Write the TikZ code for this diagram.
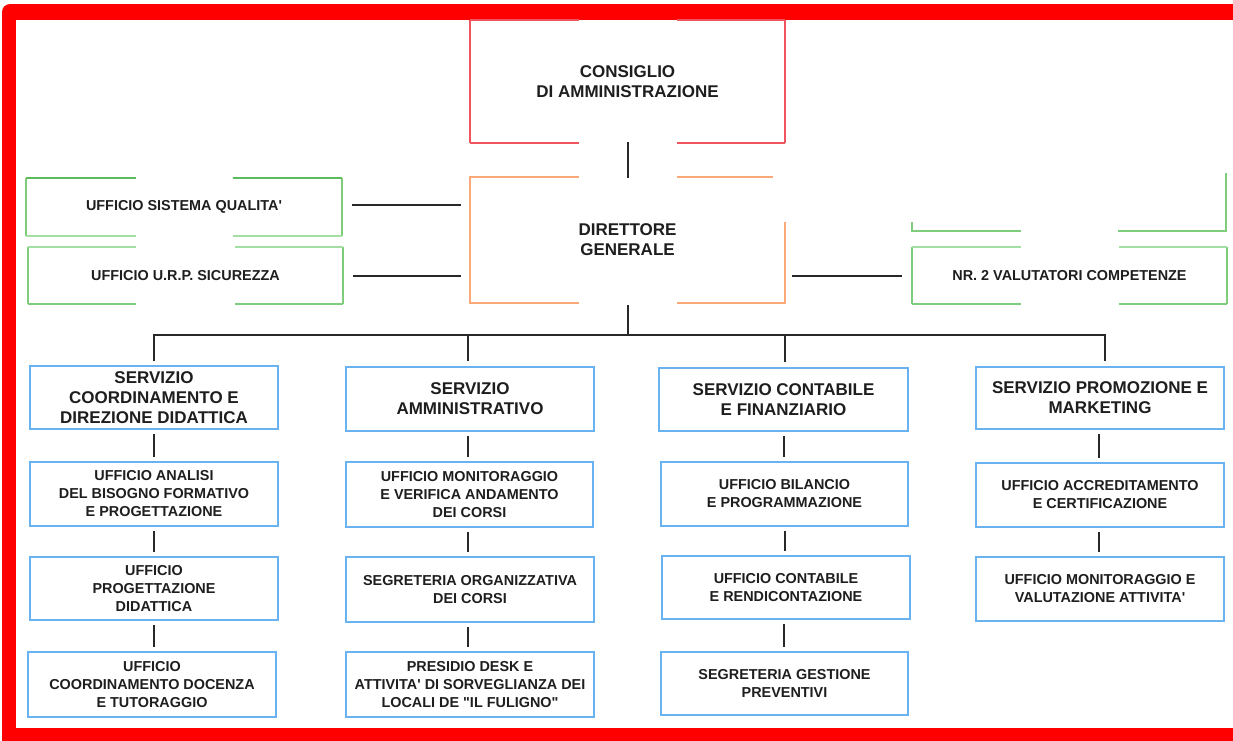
\documentclass[tikz,border=0pt]{standalone}
\usepackage{fontspec}
\setmainfont{Liberation Sans}[Ligatures=TeXOff]
\definecolor{framered}{RGB}{255,0,0}
\definecolor{boxred}{RGB}{240,85,95}
\definecolor{boxorange}{RGB}{250,170,120}
\definecolor{gdark}{RGB}{90,188,90}
\definecolor{gmid}{RGB}{125,205,125}
\definecolor{glight}{RGB}{165,222,165}
\definecolor{boxblue}{RGB}{105,180,240}
\definecolor{textdark}{RGB}{30,30,30}
\definecolor{connc}{RGB}{40,40,40}
\newcommand\brkbox[5]{%
 \draw[line width=1.5pt,#4] (#1.north west) -- (#1.south west);
 \draw[line width=1.5pt,#4] (#1.north east) -- (#1.south east);
 \draw[line width=1.5pt,#2] (#1.north west) -- ([xshift=-#5]#1.north);
 \draw[line width=1.5pt,#2] ([xshift=#5]#1.north) -- (#1.north east);
 \draw[line width=1.5pt,#3] (#1.south west) -- ([xshift=-#5]#1.south);
 \draw[line width=1.5pt,#3] ([xshift=#5]#1.south) -- (#1.south east);}
\begin{document}
\begin{tikzpicture}[x=1pt,y=-1pt,
 txt/.style={text=textdark, font={\fontsize{14.4}{18}\selectfont\bfseries}, align=center, inner sep=0pt},
 bigtxt/.style={txt, font={\fontsize{17}{20}\selectfont\bfseries}},
 bluebox/.style={txt, draw=boxblue, line width=1.5pt, minimum width=248pt, minimum height=63pt},
 bigblue/.style={bluebox, font={\fontsize{17}{20}\selectfont\bfseries}},
 conn/.style={draw=connc, line width=2pt, shorten <=4.5pt, shorten >=4.5pt},
 hconn/.style={draw=connc, line width=2pt}]
\useasboundingbox (0,0) rectangle (1233,740);
\clip (0,0) rectangle (1233,740);
% frame
\fill[framered, rounded corners=8pt] (2,4) rectangle (1270,780);
\fill[white] (16,20) rectangle (1233,728);

% top boxes
\node[bigtxt, minimum width=315pt, minimum height=123pt] (cda) at (627.5,81.5) {CONSIGLIO\\DI AMMINISTRAZIONE};
\node[bigtxt, minimum width=315pt, minimum height=126pt] (dg) at (627.5,240) {DIRETTORE\\GENERALE};
\brkbox{cda}{boxred}{boxred}{boxred}{49pt}
% direttore (partial right edge)
\draw[line width=1.5pt,boxorange] ([xshift=-49pt]dg.north) -- (dg.north west) -- (dg.south west) -- ([xshift=-49pt]dg.south);
\draw[line width=1.5pt,boxorange] ([xshift=49pt]dg.north) -- ([xshift=-12pt]dg.north east);
\draw[line width=1.5pt,boxorange] ([yshift=-45pt]dg.north east) -- (dg.south east) -- ([xshift=49pt]dg.south);

% staff boxes
\node[txt, minimum width=316pt, minimum height=58pt] (qual) at (184,207) {UFFICIO SISTEMA QUALITA'};
\node[txt, minimum width=315pt, minimum height=57pt] (urp) at (185.5,275.5) {UFFICIO U.R.P. SICUREZZA};
\node[txt, minimum width=315pt, minimum height=57pt] (nr2) at (1069.5,275.5) {NR. 2 VALUTATORI COMPETENZE};
\brkbox{qual}{gdark}{glight}{gmid}{48.5pt}
\brkbox{urp}{glight}{gmid}{gmid}{49.5pt}
\brkbox{nr2}{glight}{gmid}{gmid}{49pt}
% empty partial green box
\draw[line width=1.5pt,gmid] (912,222) -- (912,231) -- (1021,231);
\draw[line width=1.5pt,gmid] (1118,231) -- (1226,231) -- (1226,173);

% columns
\node[bigblue] (s1) at (154,397.5) {SERVIZIO\\COORDINAMENTO E\\DIREZIONE DIDATTICA};
\node[bluebox, minimum height=64pt] (u1a) at (154,494) {UFFICIO ANALISI\\DEL BISOGNO FORMATIVO\\E PROGETTAZIONE};
\node[bluebox] (u1b) at (154,588.5) {UFFICIO\\PROGETTAZIONE\\DIDATTICA};
\node[bluebox, minimum height=65pt] (u1c) at (152,684.5) {UFFICIO\\COORDINAMENTO DOCENZA\\E TUTORAGGIO};

\node[bigblue, minimum height=64pt] (s2) at (470,399) {SERVIZIO\\AMMINISTRATIVO};
\node[bluebox, minimum width=247pt, minimum height=65pt] (u2a) at (469.5,494.5) {UFFICIO MONITORAGGIO\\E VERIFICA ANDAMENTO\\DEI CORSI};
\node[bluebox, minimum height=65pt] (u2b) at (470,589.5) {SEGRETERIA ORGANIZZATIVA\\DEI CORSI};
\node[bluebox, minimum height=65pt] (u2c) at (470,684.5) {PRESIDIO DESK E\\ATTIVITA' DI SORVEGLIANZA DEI\\LOCALI DE "IL FULIGNO"};

\node[bigblue, minimum width=249pt] (s3) at (783.5,399.5) {SERVIZIO CONTABILE\\E FINANZIARIO};
\node[bluebox, minimum width=247pt, minimum height=64pt] (u3a) at (784.5,494) {UFFICIO BILANCIO\\E PROGRAMMAZIONE};
\node[bluebox] (u3b) at (786,587.5) {UFFICIO CONTABILE\\E RENDICONTAZIONE};
\node[bluebox, minimum width=247pt] (u3c) at (784.5,683.5) {SEGRETERIA GESTIONE\\PREVENTIVI};

\node[bigblue, minimum height=62pt] (s4) at (1100,398) {SERVIZIO PROMOZIONE E\\MARKETING};
\node[bluebox, minimum height=64pt] (u4a) at (1100,495) {UFFICIO ACCREDITAMENTO\\E CERTIFICAZIONE};
\node[bluebox, minimum height=64pt] (u4b) at (1100,589) {UFFICIO MONITORAGGIO E\\VALUTAZIONE ATTIVITA'};

% connectors
\draw[hconn] (cda.south) ++(0,-1) -- ([yshift=-1pt]dg.north);
\draw[hconn] ([xshift=10pt,yshift=2pt]qual.east) -- ([xshift=-9pt,yshift=2pt]qual.east -| dg.west);
\draw[hconn] ([xshift=10pt]urp.east) -- ([xshift=-9pt]urp.east -| dg.west);
\draw[hconn] ([xshift=-10pt]nr2.west) -- ([xshift=7pt]nr2.west -| dg.east);

\coordinate (bus) at (627.5,335);
\draw[hconn] ([yshift=-2pt]dg.south) -- (bus);
\draw[hconn] ([yshift=4pt]s1.north) -- (s1.north |- bus) -- ([xshift=5pt]s4.north |- bus) -- ([xshift=5pt,yshift=5pt]s4.north);
\draw[hconn] ([xshift=-2pt,yshift=5pt]s2.north) -- ([xshift=-2pt]s2.north |- bus);
\draw[hconn] ([xshift=1pt,yshift=5pt]s3.north) -- ([xshift=1pt]s3.north |- bus);

\draw[conn] (s1.south) -- (s1.south |- u1a.north);
\draw[conn] (u1a.south) -- (u1a.south |- u1b.north);
\draw[conn] (u1b.south) -- (u1b.south |- u1c.north);
\draw[conn] ([xshift=-2pt]s2.south) -- ([xshift=-2pt]s2.south |- u2a.north);
\draw[conn] ([xshift=-2pt]u2a.south) -- ([xshift=-2pt]u2a.south |- u2b.north);
\draw[conn] ([xshift=-2pt]u2b.south) -- ([xshift=-2pt]u2b.south |- u2c.north);
\draw[conn] (s3.south) -- (s3.south |- u3a.north);
\draw[conn] (u3a.south) -- (u3a.south |- u3b.north);
\draw[conn] ([xshift=-2pt]u3b.south) -- ([xshift=-2pt]u3b.south |- u3c.north);
\draw[conn] ([xshift=-1pt]s4.south) -- ([xshift=-1pt]s4.south |- u4a.north);
\draw[conn] ([xshift=-1pt]u4a.south) -- ([xshift=-1pt]u4a.south |- u4b.north);
\end{tikzpicture}
\end{document}
